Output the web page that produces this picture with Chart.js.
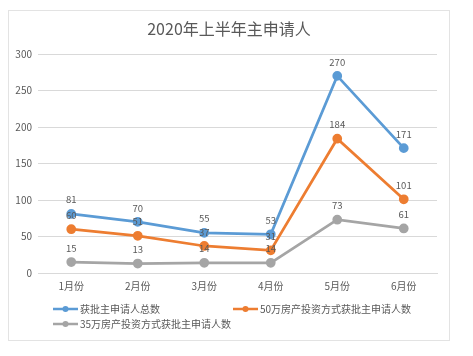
<!DOCTYPE html>
<html><head><meta charset="utf-8">
<script src="https://cdn.jsdelivr.net/npm/chart.js@4/dist/chart.umd.min.js"></script>
<style>html,body{margin:0;padding:0;background:#fff;}#wrap{width:473px;height:356px;}</style>
</head><body><div id="wrap"><canvas id="c" width="473" height="356"></canvas></div>
<script>
const TITLE = '2020年上半年主申请人';
const categories = ['1月份','2月份','3月份','4月份','5月份','6月份'];
const seriesNames = ['获批主申请人总数','50万房产投资方式获批主申请人数','35万房产投资方式获批主申请人数'];
const totalApproved = [81,70,55,53,270,171];
const approved500k = [60,51,37,31,184,101];
const approved350k = [15,13,14,14,73,61];
const yTicks = [0,50,100,150,200,250,300];
const colors = ['#5B9BD5','#ED7D31','#A5A5A5'];
const FONT = '"Noto Sans CJK SC", "Noto Sans", sans-serif';
const TXT = '#595959';

const framePlugin = {
  id: 'frame',
  beforeDraw(chart) {
    const ctx = chart.ctx;
    ctx.save();
    ctx.fillStyle = '#ffffff';
    ctx.fillRect(0,0,chart.width,chart.height);
    ctx.strokeStyle = '#e3e3e3';
    ctx.lineWidth = 1;
    ctx.strokeRect(8.5,10.5,441,330);
    ctx.fillStyle = TXT;
    ctx.font = '16px ' + FONT;
    ctx.textAlign = 'center';
    ctx.textBaseline = 'middle';
    ctx.fillText(TITLE, 229, 29);
    ctx.restore();
  },
  afterDatasetsDraw(chart) {
    const ctx = chart.ctx;
    ctx.save();
    ctx.fillStyle = TXT;
    ctx.font = '9.5px ' + FONT;
    ctx.textAlign = 'center';
    ctx.textBaseline = 'middle';
    chart.data.datasets.forEach((ds, i) => {
      const meta = chart.getDatasetMeta(i);
      meta.data.forEach((pt, j) => {
        ctx.fillText(String(ds.data[j]), pt.x, pt.y - 14);
      });
    });
    // legend
    const items = [[53,309],[233,309],[53,324]];
    ctx.font = '10px ' + FONT;
    ctx.textAlign = 'left';
    chart.data.datasets.forEach((ds, i) => {
      const [x,y] = items[i];
      ctx.strokeStyle = ds.borderColor;
      ctx.lineWidth = 2.5;
      ctx.beginPath(); ctx.moveTo(x,y); ctx.lineTo(x+25,y); ctx.stroke();
      ctx.fillStyle = ds.borderColor;
      ctx.beginPath(); ctx.arc(x+12.5,y,3,0,Math.PI*2); ctx.fill();
      ctx.fillStyle = TXT;
      ctx.fillText(ds.label, x+27, y);
    });
    ctx.restore();
  }
};

new Chart(document.getElementById('c'), {
  type: 'line',
  data: {
    labels: categories,
    datasets: [
      {label: seriesNames[0], data: totalApproved},
      {label: seriesNames[1], data: approved500k},
      {label: seriesNames[2], data: approved350k}
    ].map((d,i) => Object.assign(d, {
      borderColor: colors[i], backgroundColor: colors[i],
      pointBackgroundColor: colors[i], pointBorderColor: colors[i],
      borderWidth: 2.75, pointRadius: 3.5, tension: 0, fill: false
    }))
  },
  options: {
    responsive: false,
    animation: false,
    devicePixelRatio: 1,
    layout: {padding: {left: 8, right: 36, top: 54, bottom: 53}},
    plugins: {legend: {display: false}, title: {display: false}, tooltip: {enabled: false}},
    scales: {
      x: {
        offset: true,
        grid: {display: false, drawTicks: false},
        border: {display: true, color: '#d9d9d9'},
        ticks: {color: TXT, font: {family: FONT, size: 10}, padding: 7, maxRotation: 0},
        afterFit(s) { s.height = 30; }
      },
      y: {
        min: 0, max: 300,
        afterBuildTicks(s) { s.ticks = yTicks.map(v => ({value: v})); },
        grid: {color: '#d9d9d9', drawTicks: false},
        border: {display: false},
        ticks: {color: TXT, font: {family: FONT, size: 10}, padding: 6},
        afterFit(s) { s.width = 30; }
      }
    }
  },
  plugins: [framePlugin]
});
</script></body></html>
